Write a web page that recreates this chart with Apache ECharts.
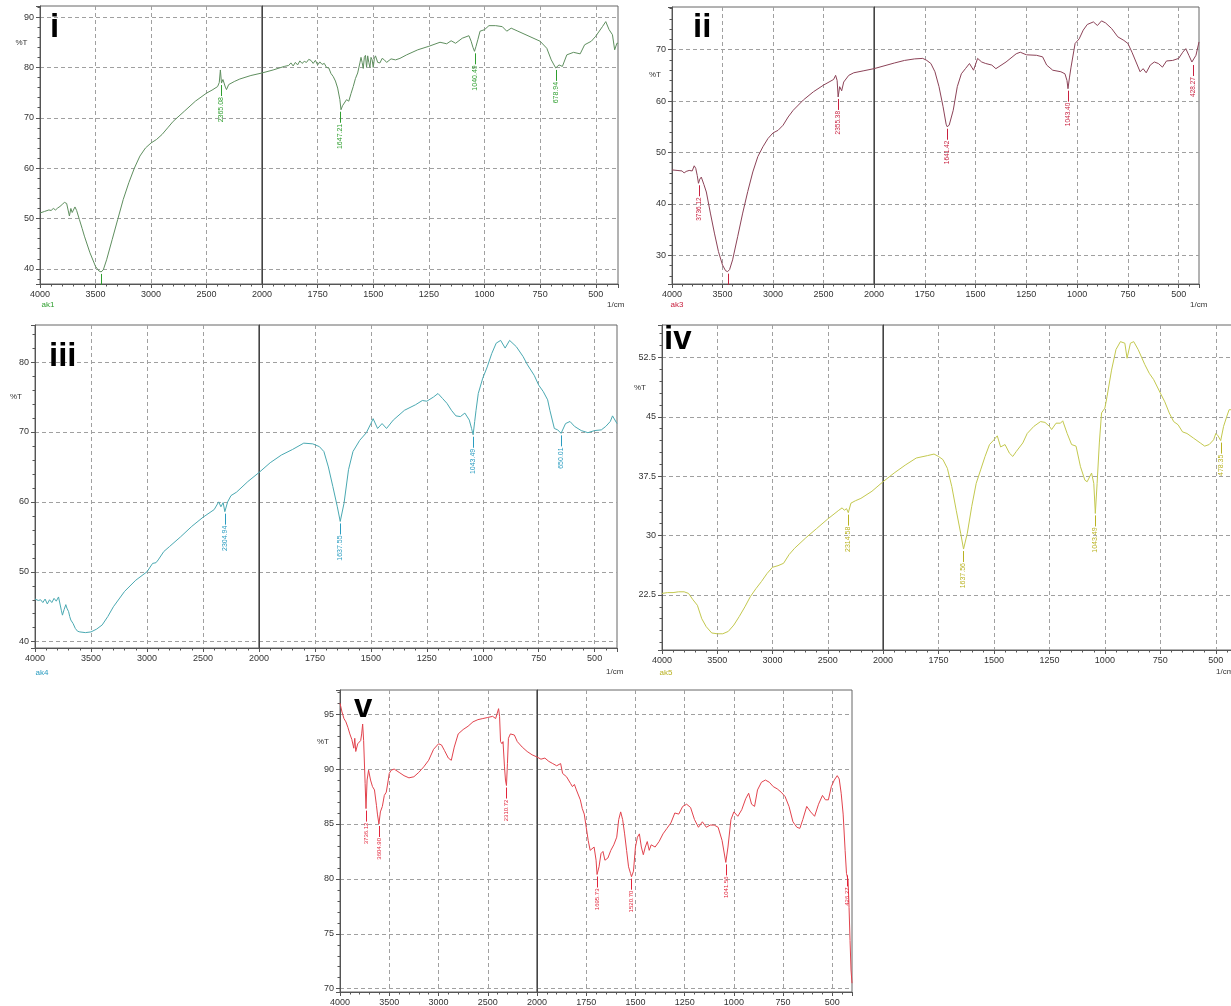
<!DOCTYPE html>
<html><head><meta charset="utf-8">
<script src="https://cdn.jsdelivr.net/npm/echarts@6/dist/echarts.min.js"></script>
<style>html,body{margin:0;padding:0;background:#fff}#c{width:1231px;height:1006px}</style>
</head><body><div id="c"></div>
<script>
// ---------- DATA (wavenumber 1/cm, %T) ----------
const spectrumI = [[4000,51.1],[3960,51.4],[3920,51.7],[3900,51.6],[3880,52.0],[3860,51.7],[3840,52.1],[3820,52.4],[3800,52.8],[3780,53.2],[3760,53.0],[3745,51.5],[3735,50.5],[3722,52.0],[3710,51.2],[3700,51.5],[3685,52.3],[3670,51.6],[3660,51.8],[3645,49.8],[3620,48.0],[3600,46.5],[3550,43.2],[3500,40.5],[3470,39.6],[3450,39.4],[3430,39.8],[3400,41.8],[3350,45.8],[3300,49.8],[3250,53.8],[3200,57.1],[3150,60.0],[3100,62.4],[3050,64.0],[3000,65.0],[2950,65.7],[2900,66.7],[2850,68.0],[2800,69.3],[2700,71.3],[2600,73.3],[2500,74.9],[2450,75.5],[2400,76.2],[2385,77.0],[2375,79.5],[2365,76.9],[2352,77.6],[2340,77.7],[2330,76.1],[2320,75.6],[2300,76.6],[2250,77.2],[2200,77.7],[2100,78.4],[2000,78.9],[1950,79.5],[1900,80.2],[1880,80.4],[1870,80.9],[1860,80.3],[1850,81.0],[1840,80.5],[1830,81.3],[1820,80.8],[1810,81.2],[1800,81.0],[1790,81.6],[1780,81.4],[1770,80.8],[1760,81.4],[1750,80.5],[1740,81.1],[1730,80.6],[1720,80.8],[1710,80.0],[1700,79.9],[1690,78.8],[1680,78.2],[1670,77.3],[1660,75.9],[1650,73.6],[1645,71.6],[1638,72.4],[1630,72.6],[1620,73.6],[1610,73.3],[1600,74.8],[1590,76.2],[1580,77.8],[1570,78.9],[1560,80.9],[1555,82.0],[1550,81.0],[1545,79.8],[1540,82.0],[1535,82.4],[1530,80.0],[1525,82.3],[1520,81.0],[1515,80.0],[1510,82.0],[1505,81.5],[1500,80.0],[1495,81.8],[1490,82.3],[1480,81.0],[1470,80.9],[1460,81.8],[1450,81.5],[1440,81.0],[1420,81.7],[1400,81.5],[1380,81.8],[1350,82.5],[1300,83.5],[1250,84.2],[1200,85.0],[1170,84.7],[1150,85.3],[1130,84.8],[1100,85.8],[1070,86.3],[1060,85.2],[1052,84.0],[1045,83.2],[1038,84.2],[1030,85.5],[1020,87.2],[1000,87.5],[980,88.3],[950,88.3],[920,88.1],[900,87.2],[880,87.8],[850,87.2],[800,86.2],[750,85.2],[720,83.8],[700,81.5],[680,79.9],[665,80.5],[650,80.2],[630,82.5],[600,83.0],[570,82.7],[550,84.5],[520,85.2],[500,86.2],[470,88.1],[455,89.1],[440,87.5],[425,86.5],[415,83.5],[405,84.8],[400,84.8]];
const peaksI = [[3450,39.4,''],[2365.08,76.9,'2365.08'],[1647.21,71.6,'1647.21'],[1040.49,83.2,'1040.49'],[678.94,79.9,'678.94']];

const spectrumII = [[4000,46.6],[3950,46.5],[3900,46.4],[3880,46.0],[3860,46.3],[3850,46.2],[3830,46.5],[3800,46.4],[3780,47.4],[3765,46.9],[3750,45.5],[3738,44.0],[3725,44.8],[3710,45.2],[3695,45.0],[3685,43.8],[3675,43.5],[3660,42.3],[3620,38.2],[3580,34.3],[3540,30.7],[3500,28.1],[3470,27.0],[3450,26.8],[3430,27.2],[3400,29.1],[3350,33.6],[3300,38.2],[3250,42.4],[3200,46.2],[3150,49.2],[3100,51.1],[3050,52.7],[3000,53.8],[2950,54.3],[2900,55.3],[2850,56.9],[2800,58.2],[2700,60.2],[2600,61.8],[2500,63.1],[2400,64.2],[2380,65.0],[2365,64.0],[2355,60.8],[2340,62.8],[2320,62.0],[2300,63.7],[2250,65.0],[2200,65.5],[2100,65.9],[2000,66.3],[1900,67.4],[1850,67.9],[1800,68.2],[1760,68.3],[1740,67.9],[1720,67.3],[1700,65.7],[1680,62.8],[1660,58.9],[1645,55.5],[1640,55.0],[1630,55.3],[1610,58.2],[1590,62.8],[1570,65.3],[1550,66.3],[1530,67.3],[1510,66.0],[1490,68.3],[1470,67.6],[1450,67.3],[1420,67.0],[1400,66.3],[1350,67.6],[1300,69.2],[1280,69.5],[1250,69.0],[1200,68.9],[1170,68.6],[1150,67.0],[1120,66.0],[1080,65.7],[1060,65.3],[1050,64.0],[1045,62.4],[1038,64.5],[1030,66.6],[1010,71.2],[990,72.1],[970,73.8],[950,74.9],[920,75.4],[900,74.7],[880,75.6],[860,75.2],[830,74.1],[800,72.5],[770,71.8],[750,71.2],[730,69.5],[710,67.6],[690,65.7],[675,66.3],[660,65.5],[640,67.0],[620,67.6],[600,67.3],[580,66.6],[560,67.8],[530,67.9],[500,68.3],[480,69.5],[465,70.2],[450,68.9],[435,67.6],[428,67.4],[415,68.9],[400,71.5]];
const peaksII = [[3736.12,44.0,'3736.12'],[3450,26.8,''],[2355.38,60.8,'2355.38'],[1641.42,55.0,'1641.42'],[1043.40,62.4,'1043.40'],[428.27,67.4,'428.27']];

const spectrumIII = [[4000,46.1],[3970,45.9],[3950,46.0],[3930,45.6],[3910,46.1],[3890,45.4],[3870,46.0],[3850,45.6],[3830,46.2],[3810,45.8],[3790,46.4],[3775,46.6],[3765,44.5],[3755,43.8],[3740,44.6],[3725,45.3],[3715,44.8],[3700,44.3],[3690,43.6],[3680,43.1],[3660,42.6],[3640,41.9],[3620,41.5],[3600,41.4],[3550,41.3],[3500,41.4],[3450,41.8],[3400,42.4],[3350,43.6],[3300,45.0],[3200,47.2],[3100,48.8],[3000,50.0],[2950,51.2],[2920,51.3],[2900,51.7],[2850,52.9],[2800,53.6],[2700,55.0],[2600,56.5],[2500,57.8],[2400,58.9],[2360,60.0],[2340,59.3],[2320,59.9],[2305,58.6],[2280,60.0],[2250,60.9],[2200,61.4],[2100,62.9],[2000,64.2],[1950,65.6],[1900,66.7],[1850,67.5],[1800,68.4],[1760,68.3],[1730,67.9],[1710,67.2],[1690,65.0],[1670,62.2],[1650,59.3],[1637,57.2],[1620,59.8],[1600,64.6],[1580,67.2],[1550,68.8],[1520,69.9],[1500,71.2],[1490,71.9],[1470,70.5],[1450,71.2],[1430,70.5],[1400,71.7],[1350,73.1],[1300,73.9],[1270,74.5],[1250,74.4],[1220,75.0],[1200,75.5],[1180,74.8],[1160,74.1],[1140,73.1],[1120,72.3],[1100,72.2],[1080,72.7],[1060,71.7],[1050,70.5],[1043,69.6],[1036,71.5],[1030,73.1],[1020,75.5],[1000,77.7],[980,79.3],[960,81.2],[940,82.7],[920,83.1],[900,82.0],[880,83.1],[850,82.2],[820,80.8],[800,79.6],[770,78.1],[750,76.7],[730,75.8],[710,74.6],[700,73.1],[680,70.5],[665,70.3],[650,69.8],[630,71.2],[610,71.5],[590,70.8],[560,70.2],[530,69.9],[500,70.2],[470,70.3],[450,70.8],[430,71.5],[420,72.3],[400,71.2]];
const peaksIII = [[2304.94,58.6,'2304.94'],[1637.55,57.2,'1637.55'],[1043.49,69.6,'1043.49'],[650.01,69.8,'650.01']];

const spectrumIV = [[4000,22.7],[3950,22.8],[3900,22.8],[3850,22.9],[3800,22.9],[3760,22.7],[3720,21.9],[3680,21.2],[3640,19.5],[3600,18.5],[3550,17.7],[3500,17.6],[3450,17.6],[3400,17.9],[3350,18.7],[3300,19.8],[3250,21.0],[3200,22.3],[3150,23.3],[3100,24.2],[3050,25.2],[3000,26.0],[2950,26.2],[2900,26.5],[2850,27.6],[2800,28.4],[2700,29.7],[2600,30.9],[2500,32.1],[2400,33.2],[2370,33.5],[2350,33.2],[2330,33.4],[2314,32.9],[2290,34.1],[2250,34.4],[2200,34.7],[2100,35.6],[2000,36.8],[1950,37.9],[1900,38.9],[1850,39.8],[1800,40.1],[1770,40.3],[1750,40.0],[1730,39.6],[1710,38.5],[1690,36.2],[1670,33.2],[1650,30.3],[1637,28.3],[1620,30.3],[1600,33.7],[1580,36.6],[1560,38.3],[1540,40.0],[1520,41.5],[1500,42.1],[1485,42.6],[1470,41.2],[1450,41.5],[1430,40.4],[1415,40.0],[1400,40.6],[1370,41.7],[1350,42.9],[1320,43.8],[1290,44.4],[1270,44.3],[1250,43.8],[1240,43.4],[1220,44.2],[1200,44.2],[1190,44.5],[1170,42.9],[1150,41.5],[1130,41.3],[1110,38.7],[1090,37.0],[1080,36.8],[1060,37.9],[1050,36.6],[1043,32.8],[1035,36.6],[1025,41.7],[1015,45.5],[1000,46.1],[990,47.6],[970,50.9],[950,53.5],[930,54.5],[910,54.3],[900,52.4],[885,54.3],[870,54.5],[850,53.5],[820,51.6],[800,50.5],[780,49.7],[750,48.0],[730,46.9],[710,45.5],[690,44.4],[670,44.0],[650,43.1],[630,42.9],[600,42.3],[570,41.7],[550,41.3],[530,41.5],[510,42.1],[500,42.9],[490,42.6],[478,42.0],[465,43.8],[450,45.1],[440,45.9],[430,45.9],[415,46.3],[400,46.6]];
const peaksIV = [[2314.58,32.9,'2314.58'],[1637.56,28.3,'1637.56'],[1043.49,32.8,'1043.49'],[478.35,42.0,'478.35']];

const spectrumV = [[4000,96.0],[3980,95.2],[3960,94.6],[3940,94.3],[3920,93.8],[3900,93.2],[3880,92.7],[3860,91.9],[3850,92.8],[3840,91.6],[3820,92.3],[3800,92.2],[3790,92.6],[3780,93.2],[3770,94.1],[3760,92.6],[3745,88.7],[3736,86.4],[3725,89.0],[3710,89.9],[3700,90.0],[3690,89.0],[3680,89.1],[3670,88.4],[3650,88.1],[3630,86.7],[3620,85.9],[3605,85.0],[3590,86.1],[3570,86.6],[3550,87.6],[3530,87.9],[3510,89.0],[3500,89.6],[3480,89.9],[3450,90.0],[3400,89.7],[3350,89.4],[3300,89.2],[3250,89.3],[3200,89.7],[3150,90.2],[3100,90.8],[3050,91.8],[3000,92.3],[2970,92.2],[2940,91.7],[2900,91.0],[2870,90.8],[2840,92.0],[2800,93.2],[2750,93.6],[2700,93.9],[2650,94.3],[2600,94.5],[2550,94.6],[2500,94.7],[2450,94.8],[2420,94.6],[2390,95.5],[2380,94.8],[2370,92.5],[2355,92.3],[2345,92.5],[2330,90.2],[2320,89.0],[2310,88.5],[2300,90.5],[2290,92.8],[2270,93.2],[2250,93.2],[2230,93.1],[2200,92.5],[2150,92.0],[2100,91.6],[2050,91.3],[2000,91.1],[1980,90.9],[1960,91.0],[1940,90.7],[1920,90.5],[1900,90.3],[1880,90.5],[1870,89.6],[1850,89.3],[1830,88.7],[1820,88.4],[1810,88.6],[1800,88.1],[1780,87.2],[1770,86.4],[1760,85.9],[1750,84.7],[1740,83.5],[1730,82.6],[1720,82.5],[1710,82.9],[1700,81.7],[1695,80.4],[1685,81.1],[1675,82.3],[1665,82.5],[1655,81.7],[1640,81.9],[1625,82.6],[1610,83.1],[1595,83.8],[1585,85.4],[1575,86.1],[1565,85.4],[1555,84.1],[1545,82.6],[1535,81.1],[1525,80.5],[1520,80.2],[1510,80.7],[1500,82.9],[1490,83.8],[1480,84.1],[1470,82.9],[1460,82.2],[1450,82.9],[1440,83.4],[1430,82.6],[1420,83.1],[1400,82.9],[1380,83.4],[1360,84.1],[1340,84.6],[1320,85.1],[1300,86.0],[1280,85.9],[1260,86.6],[1240,86.8],[1220,86.5],[1200,85.4],[1180,84.7],[1160,85.2],[1140,84.7],[1120,84.9],[1100,84.9],[1080,84.7],[1060,83.5],[1041,81.5],[1030,82.9],[1015,85.4],[1000,86.1],[980,85.7],[960,86.3],[940,87.3],[925,87.8],[910,86.8],[895,86.6],[880,88.1],[860,88.8],[840,89.0],[820,88.8],[800,88.4],[780,88.2],[760,87.9],[740,87.5],[720,86.6],[700,85.2],[680,84.7],[665,84.6],[650,85.4],[630,86.6],[610,86.1],[590,85.7],[570,86.8],[550,87.6],[535,87.2],[520,87.2],[505,88.4],[490,89.0],[475,89.4],[465,89.1],[455,87.8],[445,85.9],[435,82.6],[428,80.5],[420,79.9],[415,77.4],[410,74.4],[405,71.7],[400,70.5]];
const peaksV = [[3736.12,86.4,'3736.12'],[3604.90,85.0,'3604.90'],[2310.72,88.5,'2310.72'],[1695.73,80.4,'1695.73'],[1520.70,80.2,'1520.70'],[1041.56,81.5,'1041.56'],[426.27,80.5,'426.27']];

const sampleNames = ['ak1','ak3','ak4','ak5'];
const panelTags = ['i','ii','iii','iv','v'];
const xStepHigh = 500, xStepLow = 250;   // tick spacing above / below 2000 1/cm
const yStepI = 10, yStepII = 10, yStepIII = 10, yStepIV = 7.5, yStepV = 5;

// ---------- LAYOUT / STYLE ----------
const FONT = "'Liberation Sans', Arial, sans-serif";
const panels = [
  {data:spectrumI, peaks:peaksI, tag:panelTags[0], sample:sampleNames[0], left:40, mid:262, right:618, top:6, bottom:284, ymin:37.0, ymax:92.2, ystep:yStepI, line:'#5f8f5f', accent:'#2e9e2e', pfont:7, tagPos:[50,44], pctPos:[21.5,43], samplePos:[48,305], cmPos:[607,305]},
  {data:spectrumII, peaks:peaksII, tag:panelTags[1], sample:sampleNames[1], left:672, mid:874, right:1199, top:7, bottom:284, ymin:24.4, ymax:78.3, ystep:yStepII, line:'#8c4358', accent:'#c8203f', pfont:6.5, tagPos:[693,44], pctPos:[655,75], samplePos:[677,305], cmPos:[1190,305]},
  {data:spectrumIII, peaks:peaksIII, tag:panelTags[2], sample:sampleNames[2], left:35, mid:259, right:617, top:325, bottom:648, ymin:39.1, ymax:85.3, ystep:yStepIII, line:'#4aa9b2', accent:'#2a9cc0', pfont:7, tagPos:[49,373], pctPos:[16,397], samplePos:[42,673], cmPos:[606,672]},
  {data:spectrumIV, peaks:peaksIV, tag:panelTags[3], sample:sampleNames[3], left:662, mid:883, right:1238, top:325, bottom:650, ymin:15.55, ymax:56.6, ystep:yStepIV, line:'#c3c84e', accent:'#b9b222', pfont:7, tagPos:[664,356], pctPos:[640,388], samplePos:[666,673], cmPos:[1216,672]},
  {data:spectrumV, peaks:peaksV, tag:panelTags[4], sample:null, left:340, mid:537, right:852, top:690, bottom:992, ymin:69.7, ymax:97.2, ystep:yStepV, line:'#e2434d', accent:'#e2243a', pfont:6, tagPos:[354,724], pctPos:[323,742], samplePos:null, cmPos:null}
];

const grids = [], xAxis = [], yAxis = [], series = [], graphic = [];
const AX = '#555';
const dash = {color:'#a0a0a0', type:[4,3], width:1};
const plain = v => String(v);

function peakSeries(gi, list, p) {
  return {
    type:'custom', xAxisIndex:gi, yAxisIndex:gi, silent:true, z:5,
    data: list.map(d => [d[0], d[1]]),
    encode:{x:0, y:1},
    renderItem: (params, api) => {
      const pk = list[params.dataIndex];
      const c = api.coord([api.value(0), api.value(1)]);
      const x = Math.round(c[0]) + 0.5;
      const ch = [{type:'line', shape:{x1:x, y1:c[1]+2, x2:x, y2:c[1]+13}, style:{stroke:p.accent, lineWidth:1}}];
      if (pk[2]) ch.push({type:'text', x:x, y:c[1]+14, rotation:Math.PI/2,
        style:{text:pk[2], fill:p.accent, font:p.pfont+'px '+FONT, align:'right', verticalAlign:'middle'}});
      return {type:'group', children:ch};
    }
  };
}

panels.forEach(p => {
  const g = grids.length, h = p.bottom - p.top;
  const gridBase = {top:p.top, height:h, show:true, borderColor:'#666', borderWidth:1, containLabel:false, outerBoundsMode:'none'};
  grids.push(Object.assign({left:p.left, width:p.mid - p.left}, gridBase));
  grids.push(Object.assign({left:p.mid, width:p.right - p.mid}, gridBase));
  const tick = {show:true, length:4, lineStyle:{color:AX}};
  const minor = {show:true, splitNumber:5, length:2.5, lineStyle:{color:AX}};
  const lbl = {fontSize:9, color:'#333', fontFamily:FONT, margin:6, formatter:plain};
  xAxis.push({gridIndex:g, type:'value', inverse:true, min:2000, max:4000, minInterval:xStepHigh, maxInterval:xStepHigh,
    axisLine:{show:true, onZero:false, lineStyle:{color:AX}}, axisTick:tick, minorTick:minor,
    axisLabel:Object.assign({showMinLabel:false, showMaxLabel:true}, lbl),
    splitLine:{show:true, showMinLine:false, showMaxLine:false, lineStyle:dash}});
  xAxis.push({gridIndex:g+1, type:'value', inverse:true, min:400, max:2000, minInterval:xStepLow, maxInterval:xStepLow,
    axisLine:{show:true, onZero:false, lineStyle:{color:AX}}, axisTick:tick, minorTick:minor,
    axisLabel:Object.assign({showMinLabel:false, showMaxLabel:true}, lbl),
    splitLine:{show:true, showMinLine:false, showMaxLine:false, lineStyle:dash}});
  yAxis.push({gridIndex:g, type:'value', position:'left', min:p.ymin, max:p.ymax, minInterval:p.ystep, maxInterval:p.ystep,
    axisLine:{show:true, onZero:false, lineStyle:{color:AX}}, axisTick:tick, minorTick:minor,
    axisLabel:Object.assign({showMinLabel:false, showMaxLabel:false}, lbl),
    splitLine:{show:true, showMinLine:false, showMaxLine:false, lineStyle:dash}});
  yAxis.push({gridIndex:g+1, type:'value', position:'left', min:p.ymin, max:p.ymax, minInterval:p.ystep, maxInterval:p.ystep,
    axisLine:{show:true, onZero:false, lineStyle:{color:'#444'}}, axisTick:{show:false}, minorTick:{show:false},
    axisLabel:{show:false},
    splitLine:{show:true, showMinLine:false, showMaxLine:false, lineStyle:dash}});
  const lineBase = {type:'line', showSymbol:false, symbol:'none', silent:true, z:3, lineStyle:{color:p.line, width:1}};
  series.push(Object.assign({xAxisIndex:g, yAxisIndex:g, data:p.data.filter(d => d[0] >= 2000)}, lineBase));
  series.push(Object.assign({xAxisIndex:g+1, yAxisIndex:g+1, data:p.data.filter(d => d[0] <= 2000)}, lineBase));
  series.push(peakSeries(g, p.peaks.filter(d => d[0] > 2000), p));
  series.push(peakSeries(g+1, p.peaks.filter(d => d[0] <= 2000), p));

  graphic.push({type:'text', x:p.tagPos[0], y:p.tagPos[1], z:100,
    style:{text:p.tag, font:'bold 33px '+FONT, fill:'#000', align:'left', verticalAlign:'bottom'}});
  graphic.push({type:'text', x:p.pctPos[0], y:p.pctPos[1], z:100,
    style:{text:'%T', font:'8px '+FONT, fill:'#333', align:'center', verticalAlign:'middle'}});
  if (p.sample) graphic.push({type:'text', x:p.samplePos[0], y:p.samplePos[1], z:100,
    style:{text:p.sample, font:'8px '+FONT, fill:p.accent, align:'center', verticalAlign:'middle'}});
  if (p.cmPos) graphic.push({type:'text', x:p.cmPos[0], y:p.cmPos[1], z:100,
    style:{text:'1/cm', font:'8px '+FONT, fill:'#333', align:'left', verticalAlign:'middle'}});
});

const chart = echarts.init(document.getElementById('c'));
chart.setOption({animation:false, backgroundColor:'#fff', grid:grids, xAxis:xAxis, yAxis:yAxis, series:series, graphic:graphic});
</script></body></html>
